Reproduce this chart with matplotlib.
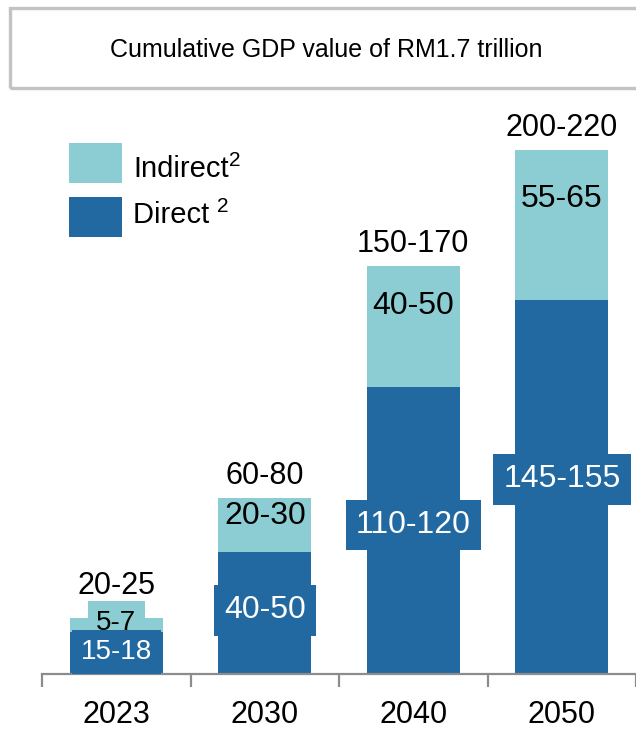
import matplotlib
matplotlib.use("Agg")
import matplotlib.pyplot as plt
from matplotlib.patches import Rectangle

# ── Data ──────────────────────────────────────────────────────────────────────
years          = ["2023", "2030", "2040", "2050"]
direct         = [16.8, 49.0, 115.0, 150.0]
indirect       = [5.6, 21.5, 48.5, 60.0]
direct_labels  = ["15-18", "40-50", "110-120", "145-155"]
indirect_labels = ["5-7", "20-30", "40-50", "55-65"]
total_labels   = ["20-25", "60-80", "150-170", "200-220"]
title_text     = "Cumulative GDP value of RM1.7 trillion"

# ── Style ─────────────────────────────────────────────────────────────────────
DARK  = "#2369a1"
LIGHT = "#8ccdd3"
AXIS_GREY = "#8c8c8c"
plt.rcParams["font.family"] = ["Liberation Sans", "DejaVu Sans"]

W, H = 636, 733
fig = plt.figure(figsize=(W / 100, H / 100), dpi=100)
ax = fig.add_axes([42 / W, 1 - 674 / H, 594 / W, 599 / H])

x = range(len(years))
bar_w = 0.625
ax.bar(x, direct, width=bar_w, color=DARK, zorder=2)
ax.bar(x, indirect, width=bar_w, bottom=direct, color=LIGHT, zorder=2)

# segment labels
inner_size = [20, 23, 23, 23]
indirect_pad = [0.3, 0.05, 0.05, 0.05]
total_offset = [12, 5, 5, 5]
for i in x:
    ax.text(i, direct[i] + 0.67 * indirect[i], indirect_labels[i],
            ha="center", va="center", fontsize=inner_size[i], color="black", zorder=3,
            bbox=dict(boxstyle="square,pad=%.2f" % indirect_pad[i], fc=LIGHT, ec="none"))
for i in x:
    ax.text(i, 0.52 * direct[i], direct_labels[i],
            ha="center", va="center", fontsize=inner_size[i], color="white", zorder=4,
            bbox=dict(boxstyle="square,pad=0.32", fc=DARK, ec="none"))
    ax.annotate(total_labels[i], xy=(i, direct[i] + indirect[i]),
                xytext=(0, total_offset[i]), textcoords="offset points",
                ha="center", va="bottom", fontsize=22, color="black")

# axes
ax.set_xlim(-0.5, len(years) - 0.5)
ax.set_ylim(0, 240)
for side in ["top", "right", "left"]:
    ax.spines[side].set_visible(False)
ax.spines["bottom"].set_color(AXIS_GREY)
ax.spines["bottom"].set_linewidth(1.6)
ax.set_yticks([])
ax.set_xticks(list(x))
ax.set_xticklabels(years, fontsize=22)
ax.tick_params(axis="x", which="major", length=0, pad=19)
ax.set_xticks([i - 0.5 for i in range(len(years) + 1)], minor=True)
ax.tick_params(axis="x", which="minor", length=9, width=1.6, color=AXIS_GREY)

# header box
fig.add_artist(Rectangle((10 / W, 1 - 88 / H), 640 / W, 80 / H, transform=fig.transFigure,
                         fill=False, ec="#c3c3c3", lw=2.4))
fig.text(326 / W, 1 - 50 / H, title_text, ha="center", va="center", fontsize=18)

# legend
for label, color, y0, ty in [("Indirect", LIGHT, 143, 169), ("Direct ", DARK, 197, 215)]:
    fig.add_artist(Rectangle((69 / W, 1 - (y0 + 40) / H), 53 / W, 40 / H,
                             transform=fig.transFigure, fc=color, ec="none"))
    t = fig.text(133 / W, 1 - ty / H, label, ha="left", va="center", fontsize=21)
    ax.annotate("2", xy=(1, 0.8), xycoords=t, ha="left", va="center", fontsize=15)

fig.savefig("out.png", dpi=100)
